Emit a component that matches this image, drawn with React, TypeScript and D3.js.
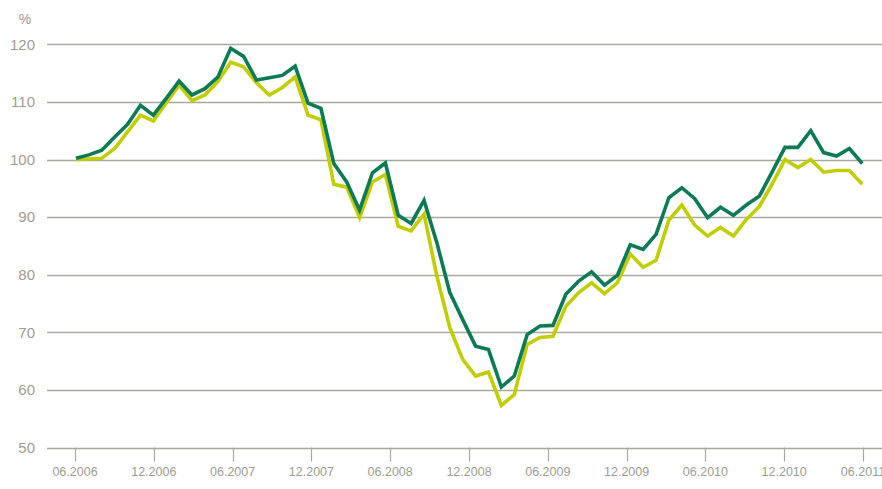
import { useEffect, useRef } from 'react';
import * as d3 from 'd3';

// month tick labels, every 6 months
const tickLabels = [
  '06.2006', '12.2006', '06.2007', '12.2007', '06.2008', '12.2008',
  '06.2009', '12.2009', '06.2010', '12.2010', '06.2011',
];

const yTicks = [50, 60, 70, 80, 90, 100, 110, 120];

// index values (62 points)
const darkSeries = [
  100.2, 100.8, 101.6, 103.9, 106.1, 109.4, 107.7, 110.6, 113.6, 111.2,
  112.3, 114.3, 119.3, 117.9, 113.8, 114.2, 114.6, 116.2, 109.8, 108.9,
  99.3, 96.1, 91.2, 97.7, 99.4, 90.3, 88.9, 92.9, 85.5, 76.9,
  72.2, 67.6, 67.0, 60.5, 62.4, 69.6, 71.1, 71.2, 76.6, 78.9,
  80.5, 78.2, 79.9, 85.2, 84.4, 87.0, 93.4, 95.1, 93.2, 89.9,
  91.7, 90.3, 92.1, 93.6, 97.8, 102.1, 102.1, 105.0, 101.2, 100.6,
  101.9, 99.3,
];

const lightSeries = [
  100.0, 100.1, 100.2, 101.9, 104.8, 107.7, 106.7, 109.8, 112.9, 110.2,
  111.2, 113.5, 116.9, 116.1, 113.3, 111.2, 112.5, 114.3, 107.7, 106.9,
  95.7, 95.2, 89.9, 96.1, 97.4, 88.4, 87.6, 90.5, 79.7, 70.8,
  65.3, 62.4, 63.1, 57.3, 59.2, 67.9, 69.1, 69.3, 74.5, 76.9,
  78.6, 76.7, 78.6, 83.6, 81.3, 82.5, 89.5, 92.1, 88.6, 86.7,
  88.2, 86.7, 89.6, 91.8, 95.7, 100.0, 98.6, 100.0, 97.8, 98.1,
  98.1, 95.7,
];

const W = 882;
const H = 489;
const GREY = '#a9a89d';
const LABEL = '#9d9c92';
const FONT = 'Liberation Sans, Arial, Helvetica, sans-serif';

export default function App() {
  const svgRef = useRef<SVGSVGElement | null>(null);

  useEffect(() => {
    const el = svgRef.current;
    if (!el) return;
    d3.select(el).selectAll('*').remove();

    const svg = d3.select(el).attr('width', W).attr('height', H);

    const left = 47;
    const y = d3.scaleLinear().domain([50, 120]).range([447.5, 44.3]);
    // tick positions (one per half-year)
    const xTick = d3.scaleLinear().domain([0, tickLabels.length - 1]).range([75, 863]);
    // data points spread over the same span
    const x = d3.scaleLinear().domain([0, darkSeries.length - 1]).range([76, 862.3]);

    // grid
    svg.append('g')
      .selectAll('line')
      .data(yTicks)
      .join('line')
      .attr('x1', left).attr('x2', W)
      .attr('y1', d => Math.round(y(d)) + 0.5).attr('y2', d => Math.round(y(d)) + 0.5)
      .style('stroke', GREY)
      .style('stroke-width', 1.3);

    // y labels
    svg.append('g')
      .selectAll('text')
      .data(yTicks)
      .join('text')
      .attr('x', 35)
      .attr('y', d => y(d))
      .attr('dy', '0.35em')
      .style('text-anchor', 'end')
      .style('font-family', FONT)
      .style('font-size', '15px')
      .style('fill', LABEL)
      .text(d => d);

    svg.append('text')
      .attr('x', 25).attr('y', 19)
      .attr('dy', '0.35em')
      .style('text-anchor', 'middle')
      .style('font-family', FONT)
      .style('font-size', '14px')
      .style('fill', LABEL)
      .text('%');

    // x ticks + labels
    const xg = svg.append('g');
    xg.selectAll('line')
      .data(tickLabels)
      .join('line')
      .attr('x1', (_, i) => Math.round(xTick(i)) + 0.5)
      .attr('x2', (_, i) => Math.round(xTick(i)) + 0.5)
      .attr('y1', y(50)).attr('y2', y(50) + 14)
      .style('stroke', GREY)
      .style('stroke-width', 1.2);

    xg.selectAll('text')
      .data(tickLabels)
      .join('text')
      .attr('x', (_, i) => xTick(i))
      .attr('y', 472)
      .attr('dy', '0.35em')
      .style('text-anchor', 'middle')
      .style('font-family', FONT)
      .style('font-size', '12.5px')
      .style('fill', LABEL)
      .text(d => d);

    const line = d3.line<number>()
      .x((_, i) => x(i))
      .y(d => y(d))
      .curve(d3.curveLinear);

    svg.append('path')
      .datum(lightSeries)
      .attr('fill', 'none')
      .attr('stroke', '#c2cd00')
      .attr('stroke-width', 3.6)
      .attr('stroke-linejoin', 'miter')
      .attr('d', line);

    svg.append('path')
      .datum(darkSeries)
      .attr('fill', 'none')
      .attr('stroke', '#0b7a56')
      .attr('stroke-width', 3.6)
      .attr('stroke-linejoin', 'miter')
      .attr('d', line);
  }, []);

  return (
    <div style={{ position: 'fixed', left: 0, top: 0, width: W, height: H, overflow: 'hidden', background: '#fff' }}>
      <svg ref={svgRef} style={{ display: 'block' }} />
    </div>
  );
}
